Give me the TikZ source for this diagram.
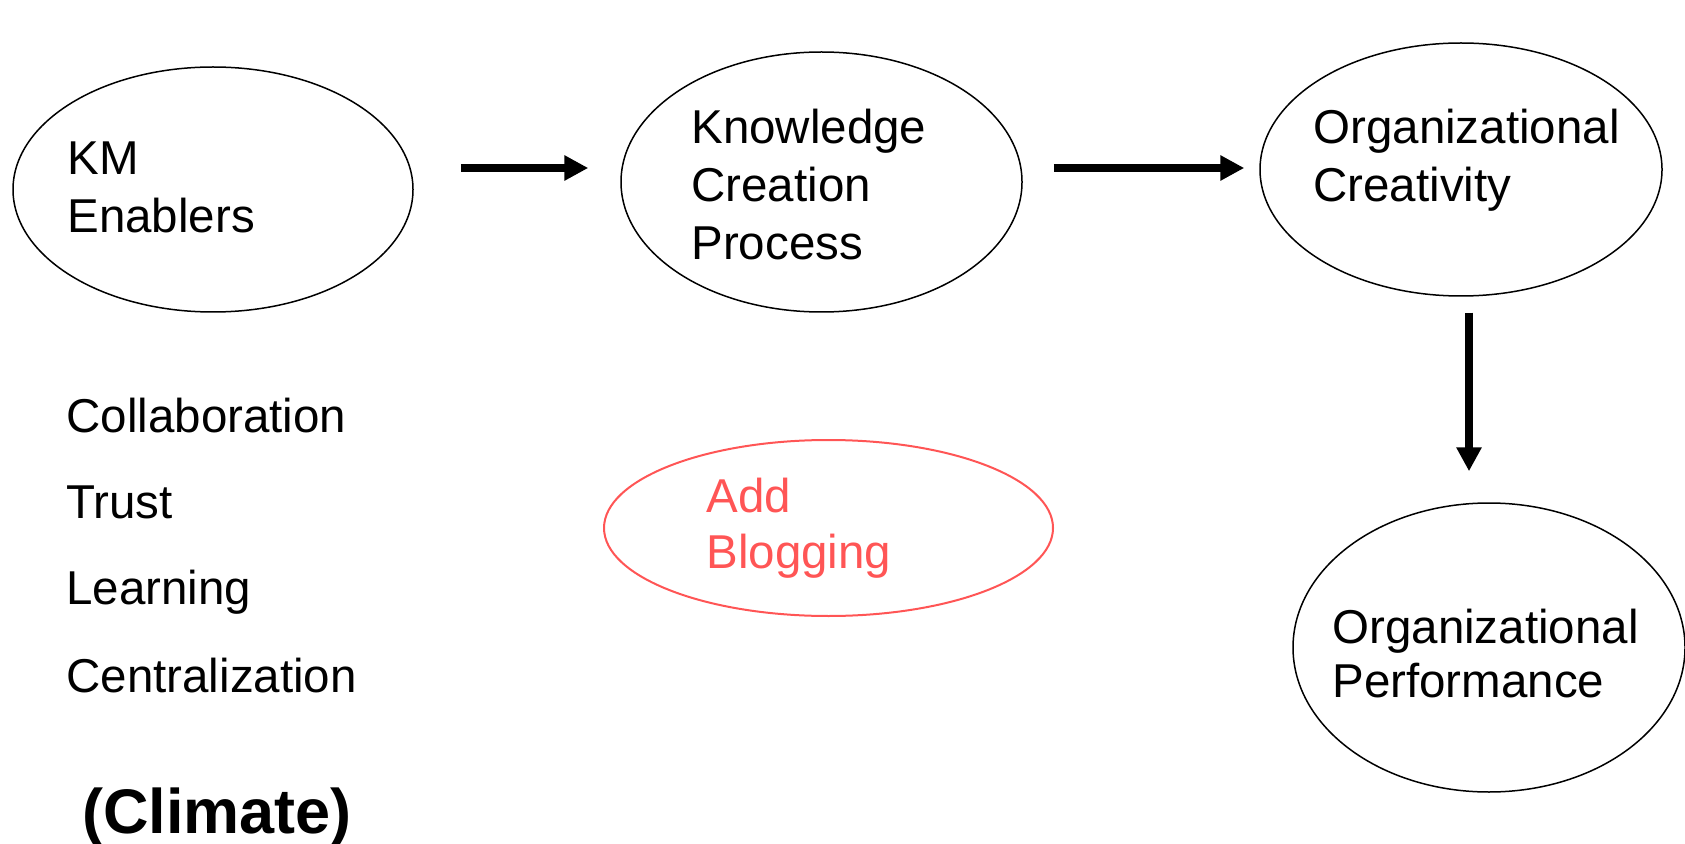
\documentclass[tikz,border=0pt]{standalone}
\usepackage{fontspec}
\setmainfont{Liberation Sans}
\usetikzlibrary{shapes.geometric}
\usetikzlibrary{arrows.meta}
\definecolor{blogred}{RGB}{255,85,85}

\begin{document}
\begin{tikzpicture}[x=0.5pt, y=-0.5pt,
        bubble/.style={ellipse, draw, line width=0.75pt, inner sep=0pt},
        words/.style={anchor=base west, align=left, inner sep=0pt,
            font=\fontsize{23.75pt}{29pt}\selectfont},
        flow/.style={line width=4.25pt, -{Triangle[length=12pt, width=12pt]}}]
    \useasboundingbox (0,0) rectangle (1685,844);
    % the bubbles
    \node[bubble, minimum width=200pt, minimum height=122.5pt] (kme) at (213,189.5) {};
    \node[bubble, minimum width=200.5pt, minimum height=130pt] (kcp) at (821.5,182) {};
    \node[bubble, minimum width=201pt, minimum height=126.5pt] (orc) at (1461,169.5) {};
    \node[bubble, minimum width=196pt, minimum height=144.5pt] (orp) at (1489,647.5) {};
    \node[bubble, draw=blogred, line width=1pt, minimum width=224.5pt, minimum height=88pt] (blog) at (828.5,528) {};
    % texts (base = last line)
    \node[words] (kmetext) at (67,233) {KM\\Enablers};
    \node[words] (kcptext) at (691,260) {Knowledge\\Creation\\Process};
    \node[words] (orctext) at (1313,202) {Organizational\\Creativity};
    \node[words, font=\fontsize{23.75pt}{27pt}\selectfont] (orptext) at (1332,697) {Organizational\\Performance};
    \node[words, text=blogred, font=\fontsize{23.75pt}{28pt}\selectfont] (blogtext) at (706,568) {Add\\Blogging};
    \foreach \word/\ypos [count=\i] in {Collaboration/432, Trust/518, Learning/604, Centralization/692}
        \node[words] (enab\i) at (66,\ypos) {\word};
    \node[words, font=\fontsize{31.5pt}{36pt}\selectfont\bfseries] (climate) at (82,833) {(Climate)};
    % arrows
    \draw[flow, shorten <=23.5pt, shorten >=16pt] ([yshift=10.75pt]kme.east) -- ([yshift=7pt]kcp.west);
    \draw[flow, shorten <=15.5pt, shorten >=7.5pt] ([yshift=7pt]kcp.east) -- ([yshift=0.75pt]orc.west);
    \draw[flow, shorten <=8pt, shorten >=15.5pt] ([xshift=4pt]orc.south) -- ([xshift=-10pt]orp.north);
\end{tikzpicture}
\end{document}
